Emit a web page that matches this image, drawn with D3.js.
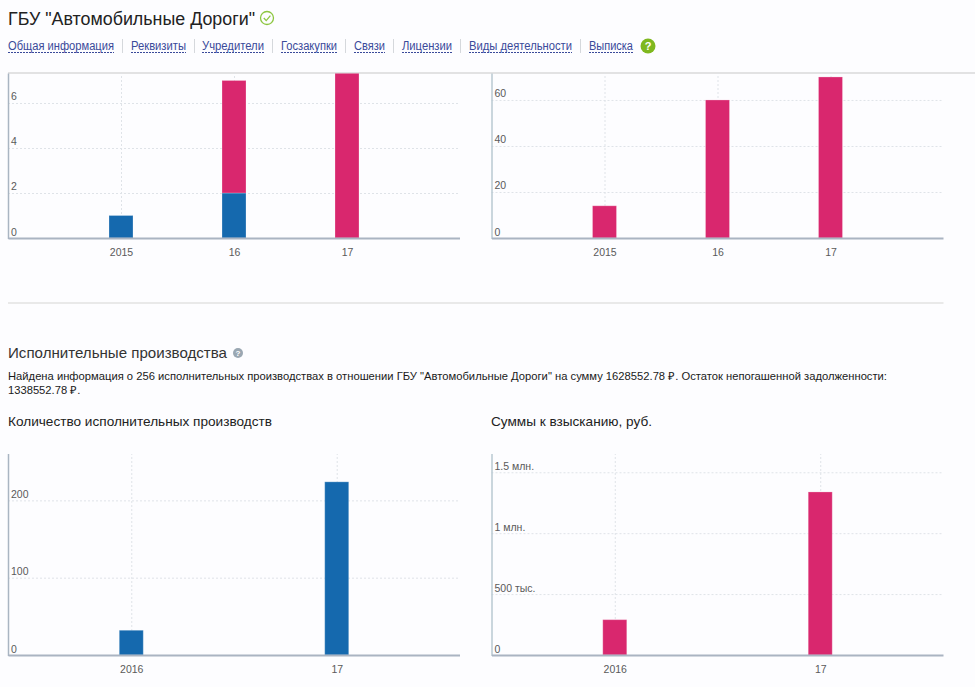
<!DOCTYPE html>
<html><head><meta charset="utf-8">
<script src="https://cdn.jsdelivr.net/npm/d3@7/dist/d3.min.js"></script>
<style>
html,body{margin:0;padding:0;background:#fdfdff;overflow:hidden}
svg{display:block;font-family:"Liberation Sans",Arial,sans-serif}
.grid line{stroke:#dfe3e8;stroke-dasharray:2 2;stroke-width:1}
.tl text{fill:#5a5a5a;font-size:10.5px}
</style></head><body>
<svg id="c" width="975" height="687"></svg>
<script>
// --- data ---
const titleText = 'ГБУ "Автомобильные Дороги"';
const navLabels = ['Общая информация','Реквизиты','Учредители','Госзакупки','Связи','Лицензии','Виды деятельности','Выписка'];
const navStarts = [8,131,202,281,354,402,469,589];
const navWidths = [106,55,62,56,31,50,103,44];
const sectionTitle = 'Исполнительные производства';
const para1 = 'Найдена информация о 256 исполнительных производствах в отношении ГБУ "Автомобильные Дороги" на сумму 1628552.78 ₽. Остаток непогашенной задолженности:';
const para2 = '1338552.78 ₽.';
const subTitleLeft = 'Количество исполнительных производств';
const subTitleRight = 'Суммы к взысканию, руб.';

const yearsTop = [2015,2016,2017];
const yearsBottom = [2016,2017];
const topLeftBlue = [1,2,0];
const topLeftPink = [0,5,8];
const topRightPink = [14,60,70];
const bottomLeftBlue = [32,224];
const bottomRightPink = [290000,1338552.78];
const topLeftTicks = [0,2,4,6];
const topRightTicks = [0,20,40,60];
const bottomLeftTicks = [0,100,200];
const bottomRightTicks = [0,500000,1000000,1500000];
const moneyLabels = ['0','500 тыс.','1 млн.','1.5 млн.'];

const BLUE='#1569ae', PINK='#d9276e';
const svg=d3.select('#c');

svg.append('text').attr('x',8).attr('y',25).attr('font-size',18).attr('fill','#222')
   .attr('textLength',247).attr('lengthAdjust','spacingAndGlyphs').text(titleText);
const chk=svg.append('g').attr('transform','translate(267,18)');
chk.append('circle').attr('r',6.5).attr('fill','none').attr('stroke','#8cc63f').attr('stroke-width',1.3);
chk.append('path').attr('d','M-3.2,0 L-0.8,2.6 L3.4,-2.4').attr('fill','none').attr('stroke','#8cc63f').attr('stroke-width',1.3);

navLabels.forEach((t,i)=>{
  svg.append('text').attr('x',navStarts[i]).attr('y',50).attr('font-size',12)
     .attr('fill','#3a4a9a').attr('textLength',navWidths[i]).attr('lengthAdjust','spacingAndGlyphs').text(t);
  svg.append('line').attr('x1',navStarts[i]).attr('x2',navStarts[i]+navWidths[i]).attr('y1',52.5).attr('y2',52.5)
     .attr('stroke','#3a4a9a').attr('stroke-dasharray','2 1');
  if(i<navLabels.length-1) svg.append('line').attr('x1',navStarts[i]+navWidths[i]+8.5).attr('x2',navStarts[i]+navWidths[i]+8.5)
     .attr('y1',39).attr('y2',53).attr('stroke','#d5d8dc');
});
svg.append('circle').attr('cx',648).attr('cy',46).attr('r',7.5).attr('fill','#7fb81f');
svg.append('text').attr('x',648).attr('y',50).attr('text-anchor','middle').attr('font-size',11).attr('font-weight','bold').attr('fill','#fff').text('?');

svg.append('line').attr('x1',8).attr('x2',975).attr('y1',73).attr('y2',73).attr('stroke','#c8c8c8').attr('stroke-width',1.2);
svg.append('line').attr('x1',8).attr('x2',943.5).attr('y1',303).attr('y2',303).attr('stroke','#e2e2e2').attr('stroke-width',1.5);

svg.append('text').attr('x',8).attr('y',358).attr('font-size',15).attr('fill','#333').attr('textLength',219).attr('lengthAdjust','spacingAndGlyphs').text(sectionTitle);
svg.append('circle').attr('cx',238).attr('cy',353).attr('r',5).attr('fill','#9aa7b2');
svg.append('text').attr('x',238).attr('y',356).attr('text-anchor','middle').attr('font-size',8).attr('font-weight','bold').attr('fill','#fff').text('?');
svg.append('text').attr('x',8).attr('y',380).attr('font-size',11.2).attr('fill','#1a1a1a').attr('textLength',879).attr('lengthAdjust','spacingAndGlyphs').text(para1);
svg.append('text').attr('x',8).attr('y',394).attr('font-size',11.2).attr('fill','#1a1a1a').text(para2);
svg.append('text').attr('x',8).attr('y',426).attr('font-size',13.5).attr('fill','#222').attr('textLength',264).attr('lengthAdjust','spacingAndGlyphs').text(subTitleLeft);
svg.append('text').attr('x',491).attr('y',426).attr('font-size',13.5).attr('fill','#222').attr('textLength',161).attr('lengthAdjust','spacingAndGlyphs').text(subTitleRight);

let clipId=0;
function chart(o){
  const g=svg.append('g');
  const x=d3.scaleLinear().domain(o.xDomain).range([o.left,o.left+452]);
  const y=d3.scaleLinear().domain([0,o.yMax]).range([o.bottom,o.top]);
  const id='clip'+(clipId++);
  g.append('clipPath').attr('id',id).append('rect').attr('x',o.left).attr('y',o.top).attr('width',452).attr('height',o.bottom-o.top);

  const gy=g.append('g').attr('class','grid').attr('transform',`translate(${o.left},0)`)
    .call(d3.axisRight(y).tickValues(o.yTicks.filter(v=>v>0)).tickSize(452).tickFormat(''));
  gy.select('.domain').remove();
  const gx=g.append('g').attr('class','grid').attr('transform',`translate(0,${o.bottom})`)
    .call(d3.axisTop(x).tickValues(o.years).tickSize(o.bottom-o.top).tickFormat(''));
  gx.select('.domain').remove();

  const bars=g.append('g').attr('clip-path',`url(#${id})`);
  const w=24;
  o.series.forEach(s=>{
    bars.selectAll(null).data(o.years.map((yr,i)=>({yr,y0:s.base?s.base[i]:0,v:s.values[i]})).filter(d=>d.v>0))
      .join('rect')
      .attr('x',d=>x(d.yr)-w/2).attr('width',w)
      .attr('y',d=>y(d.y0+d.v)).attr('height',d=>y(d.y0)-y(d.y0+d.v))
      .attr('fill',s.color).attr('stroke','#fff').attr('stroke-opacity',.25).attr('stroke-width',1);
  });

  const tl=g.append('g').attr('class','tl').attr('transform',`translate(${o.left+3},0)`)
    .call(d3.axisRight(y).tickValues(o.yTicks).tickSize(0).tickPadding(0)
      .tickFormat((d,i)=>o.yLabels?o.yLabels[i]:d));
  tl.select('.domain').remove();
  tl.selectAll('text').attr('dy',-3).attr('text-anchor','start');

  const xl=g.append('g').attr('class','tl').attr('transform',`translate(0,${o.bottom+18})`)
    .call(d3.axisBottom(x).tickValues(o.years).tickSize(0).tickPadding(0)
      .tickFormat((d,i)=>i===0?String(d):String(d).slice(2)));
  xl.select('.domain').remove();
  xl.selectAll('text').attr('dy',0);

  g.append('line').attr('x1',o.left+.5).attr('x2',o.left+.5).attr('y1',o.top).attr('y2',o.bottom+1).attr('stroke',o.axisColor).attr('stroke-width',1.5);
  g.append('line').attr('x1',o.left+.5).attr('x2',o.left+452).attr('y1',o.bottom+.5).attr('y2',o.bottom+.5).attr('stroke','#aab4c2').attr('stroke-width',2);
}
const dTop=[2014,2018], dBot=[2015.4,2017.6];
chart({left:8,top:73.5,bottom:238,xDomain:dTop,yMax:7.31,years:yearsTop,yTicks:topLeftTicks,axisColor:'#a9b5c2',
  series:[{values:topLeftBlue,color:BLUE},{values:topLeftPink,base:topLeftBlue,color:PINK}]});
chart({left:491.5,top:73.5,bottom:238,xDomain:dTop,yMax:71.5,years:yearsTop,yTicks:topRightTicks,axisColor:'#b9c8d2',
  series:[{values:topRightPink,color:PINK}]});
chart({left:8,top:454,bottom:655,xDomain:dBot,yMax:260,years:yearsBottom,yTicks:bottomLeftTicks,axisColor:'#a9b5c2',
  series:[{values:bottomLeftBlue,color:BLUE}]});
chart({left:491.5,top:454,bottom:655,xDomain:dBot,yMax:1650000,years:yearsBottom,yTicks:bottomRightTicks,yLabels:moneyLabels,axisColor:'#b9c8d2',
  series:[{values:bottomRightPink,color:PINK}]});
</script></body></html>
